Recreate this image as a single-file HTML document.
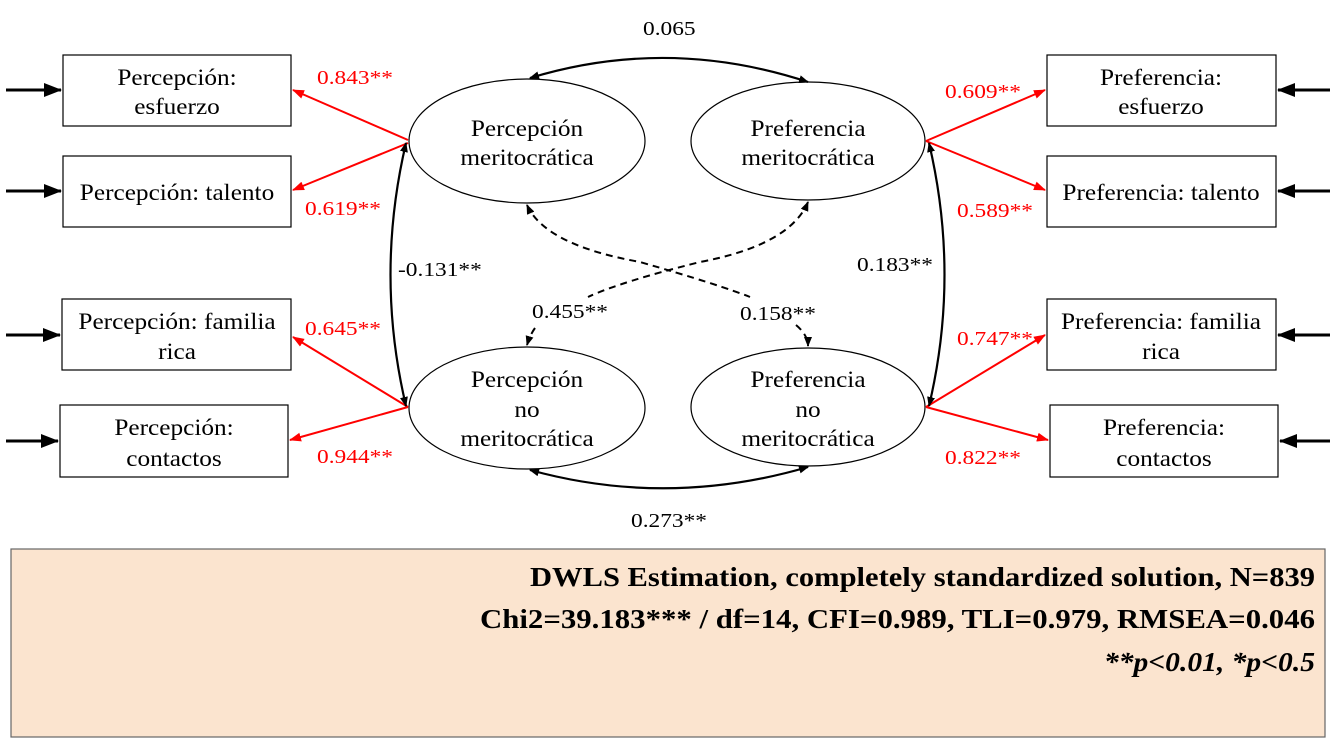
<!DOCTYPE html>
<html><head><meta charset="utf-8"><style>
html,body{margin:0;padding:0;background:#fff;}
svg{display:block;font-family:"Liberation Serif",serif;}
</style></head><body>
<svg width="1336" height="755" viewBox="0 0 1336 755" xmlns="http://www.w3.org/2000/svg">
<defs>
<marker id="ab" markerWidth="10" markerHeight="8" refX="9" refY="4" orient="auto" markerUnits="userSpaceOnUse"><path d="M0,0 L10,4 L0,8 Z" fill="#000"/></marker>
<marker id="abs" markerWidth="10" markerHeight="8" refX="9" refY="4" orient="auto-start-reverse" markerUnits="userSpaceOnUse"><path d="M0,0 L10,4 L0,8 Z" fill="#000"/></marker>
<marker id="ar" markerWidth="12" markerHeight="9" refX="11" refY="4.5" orient="auto" markerUnits="userSpaceOnUse"><path d="M0,0 L12,4.5 L0,9 Z" fill="#f00"/></marker>
<marker id="big" markerWidth="18" markerHeight="14" refX="17" refY="7" orient="auto" markerUnits="userSpaceOnUse"><path d="M0,0 L18,7 L0,14 Z" fill="#000"/></marker>
</defs>
<g fill="#fff" stroke="#000" stroke-width="1.2">
<rect x="63" y="55" width="228" height="71"/>
<rect x="63" y="156" width="228" height="71"/>
<rect x="62" y="299" width="229" height="71"/>
<rect x="60" y="405" width="228" height="72"/>
<rect x="1047" y="55" width="229" height="71"/>
<rect x="1047" y="156" width="229" height="71"/>
<rect x="1047" y="299" width="229" height="71"/>
<rect x="1050" y="405" width="228" height="72"/>
<ellipse cx="527" cy="141" rx="118" ry="62"/>
<ellipse cx="808" cy="141" rx="117" ry="59"/>
<ellipse cx="527" cy="408" rx="118" ry="61"/>
<ellipse cx="808" cy="407" rx="117" ry="59"/>
</g>
<g stroke="#000" stroke-width="3">
<line x1="6" y1="90" x2="61" y2="90" marker-end="url(#big)"/>
<line x1="6" y1="191" x2="61" y2="191" marker-end="url(#big)"/>
<line x1="6" y1="335" x2="60" y2="335" marker-end="url(#big)"/>
<line x1="6" y1="441" x2="58" y2="441" marker-end="url(#big)"/>
<line x1="1330" y1="90" x2="1278" y2="90" marker-end="url(#big)"/>
<line x1="1330" y1="191" x2="1278" y2="191" marker-end="url(#big)"/>
<line x1="1330" y1="335" x2="1278" y2="335" marker-end="url(#big)"/>
<line x1="1330" y1="441" x2="1280" y2="441" marker-end="url(#big)"/>
</g>
<g stroke="#f00" stroke-width="2" fill="none">
<line x1="408" y1="140" x2="293" y2="90" marker-end="url(#ar)"/>
<line x1="408" y1="143" x2="293" y2="190" marker-end="url(#ar)"/>
<line x1="408" y1="407" x2="293" y2="337" marker-end="url(#ar)"/>
<line x1="408" y1="407" x2="290" y2="440" marker-end="url(#ar)"/>
<line x1="926" y1="141" x2="1045" y2="90" marker-end="url(#ar)"/>
<line x1="926" y1="141" x2="1045" y2="190" marker-end="url(#ar)"/>
<line x1="926" y1="407" x2="1045" y2="335" marker-end="url(#ar)"/>
<line x1="926" y1="407" x2="1048" y2="440" marker-end="url(#ar)"/>
</g>
<g stroke="#000" stroke-width="2.2" fill="none">
<path d="M530,78 Q668,36 808,82" marker-start="url(#abs)" marker-end="url(#ab)"/>
<path d="M530,470 Q668,508 808,467" marker-start="url(#abs)" marker-end="url(#ab)"/>
<path d="M406,143 Q375,275 406,406" marker-start="url(#abs)" marker-end="url(#ab)"/>
<path d="M929,143 Q960,275 929,406" marker-start="url(#abs)" marker-end="url(#ab)"/>
</g>
<g stroke="#000" stroke-width="2" fill="none" stroke-dasharray="7,5">
<path d="M527,205 Q545,245 640,262 Q720,285 750,297" marker-start="url(#abs)"/>
<path d="M796,325 Q808,335 808,346" marker-end="url(#ab)"/>
<path d="M808,202 Q790,245 700,262 Q620,282 588,297" marker-start="url(#abs)"/>
<path d="M535,328 Q530,335 527,345" marker-end="url(#ab)"/>
</g>
<g font-size="23" text-anchor="middle" fill="#000">
<text transform="translate(177,85) scale(1.1,1)">Percepción:</text><text transform="translate(177,114) scale(1.1,1)">esfuerzo</text>
<text transform="translate(177,200) scale(1.1,1)">Percepción: talento</text>
<text transform="translate(177,329) scale(1.1,1)">Percepción: familia</text><text transform="translate(177,359) scale(1.1,1)">rica</text>
<text transform="translate(174,435) scale(1.1,1)">Percepción:</text><text transform="translate(174,466) scale(1.1,1)">contactos</text>
<text transform="translate(1161,85) scale(1.1,1)">Preferencia:</text><text transform="translate(1161,114) scale(1.1,1)">esfuerzo</text>
<text transform="translate(1161,200) scale(1.1,1)">Preferencia: talento</text>
<text transform="translate(1161,329) scale(1.1,1)">Preferencia: familia</text><text transform="translate(1161,359) scale(1.1,1)">rica</text>
<text transform="translate(1164,435) scale(1.1,1)">Preferencia:</text><text transform="translate(1164,466) scale(1.1,1)">contactos</text>
<text transform="translate(527,136) scale(1.1,1)">Percepción</text><text transform="translate(527,165) scale(1.1,1)">meritocrática</text>
<text transform="translate(808,136) scale(1.1,1)">Preferencia</text><text transform="translate(808,165) scale(1.1,1)">meritocrática</text>
<text transform="translate(527,387) scale(1.1,1)">Percepción</text><text transform="translate(527,417) scale(1.1,1)">no</text><text transform="translate(527,446) scale(1.1,1)">meritocrática</text>
<text transform="translate(808,387) scale(1.1,1)">Preferencia</text><text transform="translate(808,417) scale(1.1,1)">no</text><text transform="translate(808,446) scale(1.1,1)">meritocrática</text>
</g>
<g font-size="20" fill="#000">
<text transform="translate(643,35) scale(1.17,1)">0.065</text>
<text transform="translate(398,276) scale(1.17,1)">-0.131**</text>
<text transform="translate(857,271) scale(1.17,1)">0.183**</text>
<text transform="translate(532,318) scale(1.17,1)">0.455**</text>
<text transform="translate(740,320) scale(1.17,1)">0.158**</text>
<text transform="translate(631,527) scale(1.17,1)">0.273**</text>
</g>
<g font-size="20" fill="#f00">
<text transform="translate(317,84) scale(1.17,1)">0.843**</text>
<text transform="translate(305,215) scale(1.17,1)">0.619**</text>
<text transform="translate(305,335) scale(1.17,1)">0.645**</text>
<text transform="translate(317,463) scale(1.17,1)">0.944**</text>
<text transform="translate(945,98) scale(1.17,1)">0.609**</text>
<text transform="translate(957,217) scale(1.17,1)">0.589**</text>
<text transform="translate(957,345) scale(1.17,1)">0.747**</text>
<text transform="translate(945,464) scale(1.17,1)">0.822**</text>
</g>
<rect x="11" y="549" width="1314" height="188" fill="#fbe4cf" stroke="#666" stroke-width="1.2"/>
<g font-size="27" font-weight="bold" fill="#000">
<text x="530" y="586" textLength="785" lengthAdjust="spacingAndGlyphs">DWLS Estimation, completely standardized solution, N=839</text>
<text x="480" y="628" textLength="835" lengthAdjust="spacingAndGlyphs">Chi2=39.183*** / df=14, CFI=0.989, TLI=0.979, RMSEA=0.046</text>
<text x="1104" y="671" font-style="italic" textLength="211" lengthAdjust="spacingAndGlyphs">**p&lt;0.01, *p&lt;0.5</text>
</g>
</svg>
</body></html>
